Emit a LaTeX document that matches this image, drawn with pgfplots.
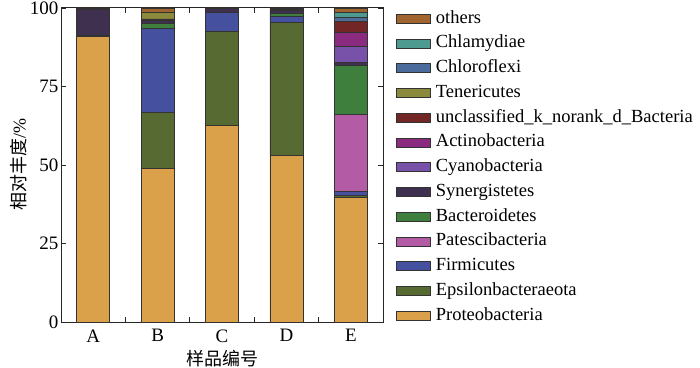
\documentclass[border=0pt]{standalone}
\usepackage{pgfplots}
\pgfplotsset{compat=1.18}
\usepackage{fontspec}
\setmainfont{Liberation Serif}
\newfontfamily\cjk{Noto Sans CJK SC}
\definecolor{cProt}{HTML}{DBA04A}
\definecolor{cEps}{HTML}{566A31}
\definecolor{cFirm}{HTML}{45509E}
\definecolor{cPat}{HTML}{B35CA5}
\definecolor{cBac}{HTML}{3F7F3D}
\definecolor{cSyn}{HTML}{3F3050}
\definecolor{cCya}{HTML}{7752A8}
\definecolor{cAct}{HTML}{8A2B80}
\definecolor{cUnc}{HTML}{722626}
\definecolor{cTen}{HTML}{8B8A3C}
\definecolor{cChlo}{HTML}{4B6B9C}
\definecolor{cChla}{HTML}{4D9A90}
\definecolor{cOth}{HTML}{A0652E}
\begin{document}
\begin{tikzpicture}
\path[use as bounding box] (-61pt,-45pt) rectangle (639pt,322pt);
\begin{axis}[
  at={(0,0)}, anchor=south west,
  scale only axis, width=322pt, height=314pt,
  ybar stacked, bar width=33pt,
  xmin=-0.5, xmax=4.5, ymin=0, ymax=100,
  axis line style={line width=1pt, black!85},
  xtick={0.5,1.5,2.5,3.5}, xticklabels={},
  extra x ticks={0,1,2,3,4}, extra x tick labels={A,B,C,D,E},
  extra x tick style={major tick length=0pt},
  ytick={0,25,50,75,100},
  tick align=inside, major tick length=5pt,
  tick style={black!85, line width=0.8pt},
  /pgf/number format/assume math mode=true,
  tick label style={font=\fontsize{19}{22}\selectfont},
  yticklabel style={xshift=1pt},
  xticklabel style={yshift=-4pt},
  xlabel={\cjk 样品编号}, ylabel={{\cjk 相对丰度}/\%},
  label style={font=\fontsize{18}{21}\selectfont},
  xlabel style={yshift=-1pt},
  ylabel style={yshift=-4pt},
  every axis plot/.append style={draw=black!80, line width=0.7pt},
  reverse legend,
  legend cell align=left,
  legend image code/.code={\draw[#1] (0pt,-4.5pt) rectangle (34pt,4.5pt);},
  legend style={at={(1,1)}, anchor=north west, xshift=13pt, yshift=-1pt,
    draw=none, fill=none, inner sep=0pt, column sep=4pt, row sep=5.75pt,
    font=\fontsize{18.5}{21}\selectfont,
    nodes={text height=13pt, text depth=4pt, inner sep=1pt}},
]
\addplot[fill=cProt] coordinates {(0,91.0) (1,49.0) (2,62.6) (3,53.0) (4,39.8)};
\addplot[fill=cEps] coordinates {(0,0.3) (1,17.8) (2,30.1) (3,42.5) (4,0.6)};
\addplot[fill=cFirm] coordinates {(0,0) (1,26.8) (2,5.9) (3,1.9) (4,1.2)};
\addplot[fill=cPat] coordinates {(0,0) (1,0) (2,0) (3,0) (4,24.5)};
\addplot[fill=cBac] coordinates {(0,0) (1,1.4) (2,0) (3,0.8) (4,15.7)};
\addplot[fill=cSyn] coordinates {(0,8.4) (1,1.1) (2,1.2) (3,1.0) (4,0.9)};
\addplot[fill=cCya] coordinates {(0,0) (1,0.2) (2,0) (3,0) (4,5.0)};
\addplot[fill=cAct] coordinates {(0,0) (1,0) (2,0) (3,0) (4,4.4)};
\addplot[fill=cUnc] coordinates {(0,0) (1,0.2) (2,0) (3,0) (4,3.6)};
\addplot[fill=cTen] coordinates {(0,0) (1,2.2) (2,0) (3,0.3) (4,0.2)};
\addplot[fill=cChlo] coordinates {(0,0) (1,0) (2,0) (3,0) (4,1.0)};
\addplot[fill=cChla] coordinates {(0,0) (1,0) (2,0) (3,0) (4,1.8)};
\addplot[fill=cOth] coordinates {(0,0.3) (1,1.3) (2,0.2) (3,0.5) (4,1.3)};
\legend{Proteobacteria,Epsilonbacteraeota,Firmicutes,Patescibacteria,Bacteroidetes,Synergistetes,Cyanobacteria,Actinobacteria,unclassified\_k\_norank\_d\_Bacteria,Tenericutes,Chloroflexi,Chlamydiae,others}
\end{axis}
\end{tikzpicture}
\end{document}
